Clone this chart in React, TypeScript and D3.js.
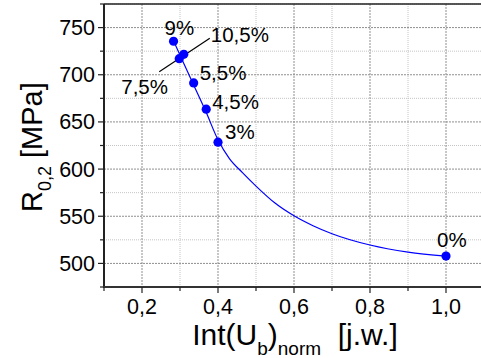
import React from "react";
import * as d3 from "d3";

// ---- data ----
const labels = ["9%", "10,5%", "7,5%", "5,5%", "4,5%", "3%", "0%"];
const xValues = [0.283, 0.31, 0.298, 0.336, 0.369, 0.4, 1.0];
const yValues = [735.5, 721.7, 717, 691.3, 663.5, 628.5, 507.8];

// fitted curve
const fitX = [0.284, 0.31, 0.335, 0.368, 0.4, 0.43, 0.465, 0.5, 0.55, 0.6, 0.65, 0.7, 0.8, 0.9, 1.0];
const fitY = [735, 712, 690, 661, 631, 611, 596, 582, 564, 550.5, 540, 531.5, 519.5, 512, 507.7];

const xMajorTicks = [0.2, 0.4, 0.6, 0.8, 1.0];
const xMinorTicks = [0.1, 0.3, 0.5, 0.7, 0.9, 1.1];
const yMajorTicks = [500, 550, 600, 650, 700, 750];
const yMinorTicks = [475, 525, 575, 625, 675, 725, 775];

// label placement (pixel offsets from the point: text start, baseline)
const labelOffsets: [number, number][] = [
  [-9, -6],
  [27, -12],
  [-58, 35],
  [6, -3],
  [6, 0],
  [7, -3],
  [-9, -9],
];

const W = 481;
const H = 358;
const M = { left: 104, right: 484, top: 4, bottom: 287 };

const fmt = (v: number) => v.toFixed(1).replace(".", ",");

export default function App() {
  const x = d3.scaleLinear().domain([0.1, 1.1]).range([M.left, M.right]);
  const y = d3.scaleLinear().domain([475, 775]).range([M.bottom, M.top]);

  const fitPts: [number, number][] = fitX.map((v, i) => [v, fitY[i]]);
  const line = d3
    .line<[number, number]>()
    .x((d) => x(d[0]))
    .y((d) => y(d[1]))
    .curve(d3.curveMonotoneX);

  const font = "'Liberation Sans', Arial, sans-serif";

  // leader line between 7,5% and 10,5%
  const p75 = [x(xValues[2]), y(yValues[2])];
  const p105 = [x(xValues[1]), y(yValues[1])];

  return (
    <svg
      width={W}
      height={H}
      style={{ position: "absolute", left: 0, top: 0, background: "#fff" }}
      fontFamily={font}
    >
      <rect x={0} y={0} width={W} height={H} fill="#fff" />
      {/* grid */}
      {xMinorTicks.map((t) => (
        <line key={"xm" + t} x1={x(t)} x2={x(t)} y1={M.top} y2={M.bottom} stroke="#c4c4c4" strokeWidth={1} strokeDasharray="1,1" />
      ))}
      {yMinorTicks.map((t) => (
        <line key={"ym" + t} x1={M.left} x2={M.right} y1={y(t)} y2={y(t)} stroke="#c4c4c4" strokeWidth={1} strokeDasharray="1,1" />
      ))}
      {xMajorTicks.map((t) => (
        <line key={"xg" + t} x1={x(t)} x2={x(t)} y1={M.top} y2={M.bottom} stroke="#8f8f8f" strokeWidth={1} strokeDasharray="2,1" />
      ))}
      {yMajorTicks.map((t) => (
        <line key={"yg" + t} x1={M.left} x2={M.right} y1={y(t)} y2={y(t)} stroke="#8f8f8f" strokeWidth={1} strokeDasharray="2,1" />
      ))}

      {/* curve */}
      <path d={line(fitPts) || ""} fill="none" stroke="#0000ff" strokeWidth={1.2} />

      {/* leader line */}
      <line x1={p75[0] - 20} y1={p75[1] + 13} x2={p105[0] + 26} y2={p105[1] - 16} stroke="#000" strokeWidth={1.2} />

      {/* points */}
      {xValues.map((v, i) => (
        <circle key={"p" + i} cx={x(v)} cy={y(yValues[i])} r={4.6} fill="#0000ff" />
      ))}

      {/* point labels */}
      {labels.map((l, i) => (
        <text
          key={"l" + i}
          x={x(xValues[i]) + labelOffsets[i][0]}
          y={y(yValues[i]) + labelOffsets[i][1]}
          fontSize={20.5}
          fill="#000"
        >
          {l}
        </text>
      ))}

      {/* axes frame */}
      <line x1={M.left} x2={M.right} y1={M.top} y2={M.top} stroke="#222" strokeWidth={1.5} />
      <line x1={M.left} x2={M.left} y1={M.top} y2={M.bottom + 1} stroke="#222" strokeWidth={2} />
      <line x1={M.left - 1} x2={M.right} y1={M.bottom} y2={M.bottom} stroke="#333" strokeWidth={2.2} />

      {/* ticks */}
      {xMajorTicks.map((t) => (
        <g key={"xt" + t}>
          <line x1={x(t)} x2={x(t)} y1={M.bottom} y2={M.bottom + 6} stroke="#222" strokeWidth={1.2} />
          <text x={x(t)} y={314} textAnchor="middle" fontSize={21.5} fill="#000">
            {fmt(t)}
          </text>
        </g>
      ))}
      {xMinorTicks.map((t) => (
        <line key={"xmt" + t} x1={x(t)} x2={x(t)} y1={M.bottom} y2={M.bottom + 4} stroke="#222" strokeWidth={1.2} />
      ))}
      {yMajorTicks.map((t) => (
        <g key={"yt" + t}>
          <line x1={M.left - 6} x2={M.left} y1={y(t)} y2={y(t)} stroke="#222" strokeWidth={1.2} />
          <text x={95} y={y(t) + 7.5} textAnchor="end" fontSize={21.5} fill="#000">
            {t}
          </text>
        </g>
      ))}
      {yMinorTicks.map((t) => (
        <line key={"ymt" + t} x1={M.left - 4} x2={M.left} y1={y(t)} y2={y(t)} stroke="#222" strokeWidth={1.2} />
      ))}

      {/* x axis title */}
      <text x={295} y={345} textAnchor="middle" fontSize={30} fill="#000">
        <tspan>Int(U</tspan>
        <tspan fontSize={19} dy={10}>b</tspan>
        <tspan dy={-10}>)</tspan>
        <tspan fontSize={19} dy={10}>norm</tspan>
        <tspan dy={-10}>{"\u00a0 [j.w.]"}</tspan>
      </text>

      {/* y axis title */}
      <text transform="translate(42,212) rotate(-90)" textAnchor="start" fontSize={29} fill="#000">
        <tspan>R</tspan>
        <tspan fontSize={18} dy={9}>0,2</tspan>
        <tspan dy={-9}>{" [MPa]"}</tspan>
      </text>
    </svg>
  );
}
